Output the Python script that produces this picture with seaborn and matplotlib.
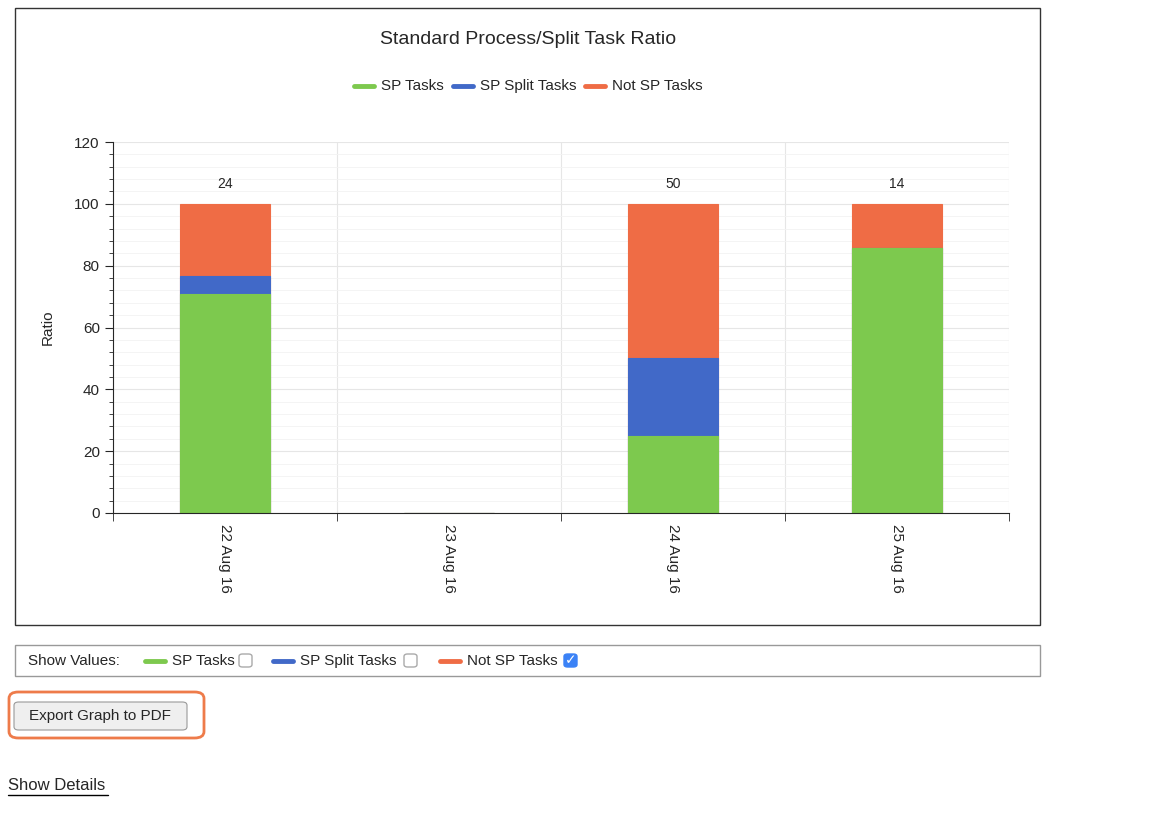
import matplotlib
matplotlib.use("Agg")
from matplotlib import pyplot as plt
from matplotlib.patches import Rectangle, FancyBboxPatch
from matplotlib.ticker import MultipleLocator
import numpy as np
import pandas as pd
import seaborn as sns

days = ['22 Aug 16', '23 Aug 16', '24 Aug 16', '25 Aug 16']
sp_tasks = [70.8, 0, 25.0, 85.7]
sp_split = [5.9, 0, 25.0, 0]
not_sp = [23.3, 0, 50.0, 14.3]
task_counts = ['24', '', '50', '14']

green = '#7dc94e'
blue = '#4169c8'
orange = '#ef6c45'

sns.set_style('white')
plt.rcParams['font.family'] = ['Liberation Sans', 'DejaVu Sans']

df = pd.DataFrame({'day': days, 'sp': sp_tasks, 'split': sp_split, 'not': not_sp})
df['lvl2'] = df['sp'] + df['split']
df['total'] = df['lvl2'] + df['not']

fig = plt.figure(figsize=(11.7, 8.14), dpi=100)
W, H = 1170, 814


def box(x0, y0, x1, y1):
    return [x0 / W, 1 - y1 / H, (x1 - x0) / W, (y1 - y0) / H]


# chart frame
fig.patches.append(Rectangle((15 / W, 1 - 625 / H), 1025 / W, 617 / H,
                             transform=fig.transFigure, fill=False,
                             edgecolor='#333333', lw=1))

ax = fig.add_axes(box(113, 142, 1009, 513))
for col, c in [('total', orange), ('lvl2', blue), ('sp', green)]:
    sns.barplot(data=df, x='day', y=col, order=days, color=c, width=0.4,
                edgecolor=c, linewidth=0.8, saturation=1, ax=ax)

for i, lab in enumerate(task_counts):
    if lab:
        ax.text(i, df['total'][i] + 4, lab, ha='center', va='bottom', fontsize=10)

ax.set_ylim(0, 120)
ax.set_xlim(-0.5, 3.5)
ax.yaxis.set_major_locator(MultipleLocator(20))
ax.yaxis.set_minor_locator(MultipleLocator(4))
ax.set_xticks(np.arange(-0.5, 4, 1), minor=True)
ax.grid(axis='y', which='major', color='#e6e6e6', lw=0.8)
ax.grid(axis='y', which='minor', color='#f3f3f3', lw=0.6)
ax.grid(axis='x', which='minor', color='#e6e6e6', lw=0.8)
ax.set_axisbelow(True)
for s in ['top', 'right']:
    ax.spines[s].set_visible(False)
ax.tick_params(axis='x', which='major', length=0, rotation=-90, labelsize=11, pad=8)
ax.tick_params(axis='x', which='minor', length=6, direction='out', bottom=True)
ax.tick_params(axis='y', which='major', length=6, direction='out', left=True, labelsize=11)
ax.tick_params(axis='y', which='minor', length=3, direction='out', left=True)
ax.set_xlabel('')
ax.set_ylabel('Ratio', fontsize=11, labelpad=14)

fig.text(528 / W, 1 - 40 / H, 'Standard Process/Split Task Ratio',
         ha='center', va='center', fontsize=14)


def legend_row(y, items, fs):
    for x, label, c in items:
        fig.lines.append(plt.Line2D([x / W, (x + 20) / W], [1 - y / H] * 2,
                                    color=c, lw=3.5, transform=fig.transFigure))
        fig.text((x + 27) / W, 1 - y / H, label, va='center', fontsize=fs)


legend_row(86, [(354, 'SP Tasks', green), (453, 'SP Split Tasks', blue),
                (585, 'Not SP Tasks', orange)], 11)

# show values bar
fig.patches.append(Rectangle((15 / W, 1 - 676 / H), 1025 / W, 31 / H,
                             transform=fig.transFigure, fill=False,
                             edgecolor='#999999', lw=1))
fig.text(28 / W, 1 - 661 / H, 'Show Values:', va='center', fontsize=11)
legend_row(661, [(145, 'SP Tasks', green), (273, 'SP Split Tasks', blue),
                 (440, 'Not SP Tasks', orange)], 11)
for x, checked in [(239, False), (404, False), (564, True)]:
    fig.patches.append(FancyBboxPatch((x / W, 1 - 667 / H), 13 / W, 13 / H,
                                      boxstyle='round,pad=0,rounding_size=0.003',
                                      transform=fig.transFigure,
                                      facecolor='#3b82f6' if checked else 'white',
                                      edgecolor='#3b82f6' if checked else '#aaaaaa'))
    if checked:
        fig.text((x + 6.5) / W, 1 - 660.5 / H, '✓', ha='center', va='center',
                 color='white', fontsize=10, family='DejaVu Sans')

# export button
fig.patches.append(FancyBboxPatch((9 / W, 1 - 738 / H), 195 / W, 46 / H,
                                  boxstyle='round,pad=0,rounding_size=0.008',
                                  transform=fig.transFigure, fill=False,
                                  edgecolor='#ee7b4a', lw=2))
fig.patches.append(FancyBboxPatch((14 / W, 1 - 730 / H), 173 / W, 28 / H,
                                  boxstyle='round,pad=0,rounding_size=0.004',
                                  transform=fig.transFigure, facecolor='#efefef',
                                  edgecolor='#999999', lw=0.8))
fig.text(100 / W, 1 - 716 / H, 'Export Graph to PDF', ha='center', va='center',
         fontsize=11)
t = fig.text(8 / W, 1 - 786 / H, 'Show Details', va='center', fontsize=12)
fig.lines.append(plt.Line2D([8 / W, 108 / W], [1 - 795 / H] * 2, color='black',
                            lw=1, transform=fig.transFigure))

fig.savefig('out.png', dpi=100)
